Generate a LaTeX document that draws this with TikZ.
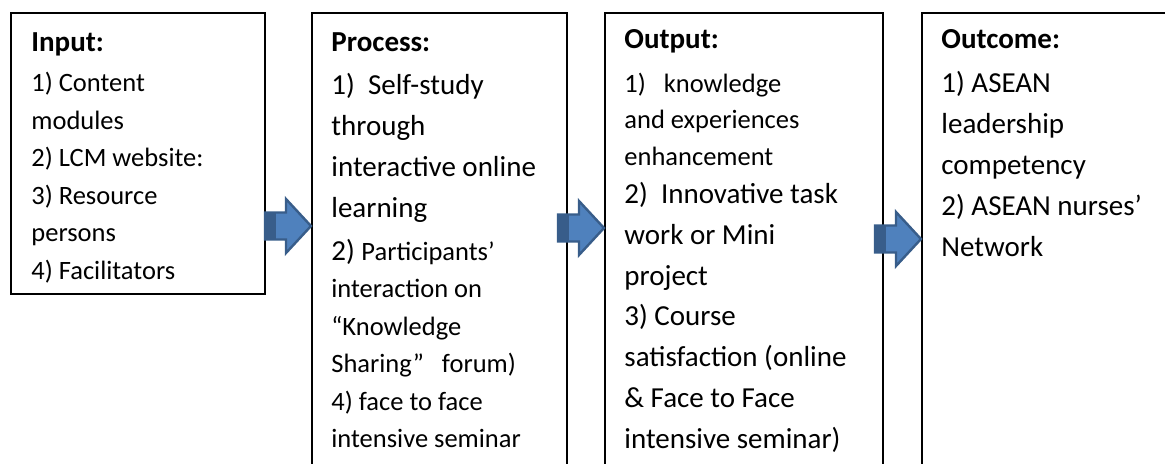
\documentclass[tikz,border=0pt]{standalone}
\usepackage{fontspec}
\setmainfont{Carlito}
\usetikzlibrary{positioning}
\definecolor{arrowfill}{HTML}{4F81BD}
\definecolor{arrowedge}{HTML}{385D8A}
\newcommand\bigsize{\fontsize{14.5}{20.5}\selectfont}
\newcommand\smallsize{\fontsize{13.25}{18.75}\selectfont}
\tikzset{
  stagebox/.style={draw=black,line width=0.75pt,anchor=north west,inner sep=0pt},
  stagetext/.style={inner sep=0pt,align=left},
  flowarrow/.style={fill=arrowfill,draw=arrowedge,line width=1.2pt},
}

\begin{document}
\begin{tikzpicture}[x=0.5pt,y=-0.5pt]
  \useasboundingbox (0,0) rectangle (1165,463);
  \clip (0,0) rectangle (1165,463);
  % four stages, the last three run off the page
  \node[stagebox,minimum width=127pt,minimum height=140.5pt] (inbox) at (10,12) {};
  \node[stagebox,minimum width=127.5pt,minimum height=240pt] (procbox) at (311,12) {};
  \node[stagebox,minimum width=139pt,minimum height=240pt] (outbox) at (604,12) {};
  \node[stagebox,minimum width=130pt,minimum height=240pt] (endbox) at (921,12) {};

  \node[stagetext,font=\smallsize,below right=10pt and 10.5pt of inbox.north west] (intxt) {%
    {\bfseries\bigsize Input:}\\[1.5pt]
    1) Content\\
    modules\\
    2) LCM website:\\
    3) Resource\\
    persons\\
    4) Facilitators};

  \node[stagetext,font=\bigsize,below right=10pt and 10pt of procbox.north west] (proctxt) {%
    {\bfseries Process:}\\[1pt]
    1)\ \ Self-study\\
    through\\
    interactive online\\
    learning\\[1pt]
    2) {\smallsize Participants’}\\[-1.75pt]
    {\smallsize interaction on}\\[-1.75pt]
    {\smallsize “Knowledge}\\[-1.75pt]
    {\smallsize Sharing”\ \ \ forum)}\\[-1.75pt]
    {\smallsize 4) face to face}\\[-1.75pt]
    {\smallsize intensive seminar}};

  \node[stagetext,font=\bigsize,below right=8.5pt and 10pt of outbox.north west] (outtxt) {%
    {\bfseries Output:}\\[1.5pt]
    {\smallsize 1)\ \ \ knowledge}\\[-2.25pt]
    {\smallsize and experiences}\\[-2.25pt]
    {\smallsize enhancement}\\[-1.5pt]
    2)\ \ Innovative task\\
    work or Mini\\
    project\\[-0.5pt]
    3) Course\\
    satisfaction (online\\
    \& Face to Face\\
    intensive seminar)};

  \node[stagetext,font=\bigsize,below right=8.5pt and 10pt of endbox.north west] (endtxt) {%
    {\bfseries Outcome:}\\[1.5pt]
    1) ASEAN\\
    leadership\\
    competency\\
    2) ASEAN nurses’\\
    Network};

  % block arrows between the stages, darker at the tail end
  \foreach \a/\b/\y in {inbox/procbox/226,procbox/outbox/228,outbox/endbox/239} {
    \draw[flowarrow] (\b.west |- 0,\y) -- ++(-25,-27) -- ++(0,13.5) -- ++(-21,0)
      -- ++(0,27) -- ++(21,0) -- ++(0,13.5) -- cycle;
    \fill[arrowedge] (\b.west |- 0,\y) ++(-46,-13.5) rectangle ++(11,27);
  }
\end{tikzpicture}
\end{document}
